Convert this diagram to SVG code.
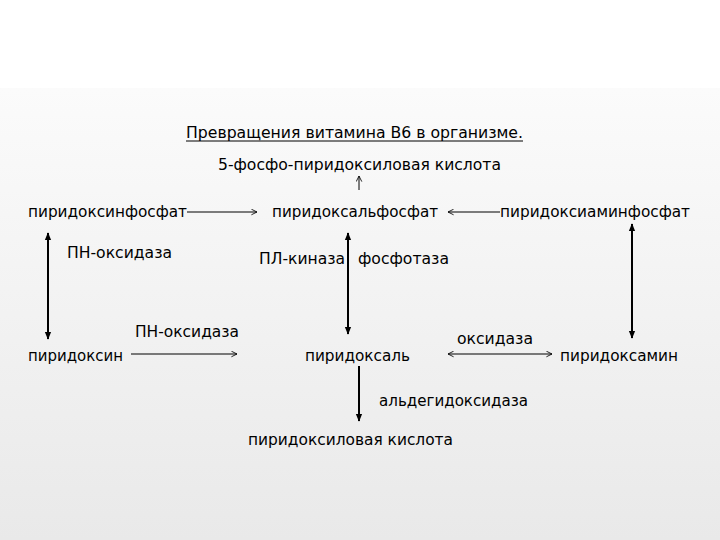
<svg xmlns="http://www.w3.org/2000/svg" width="720" height="540" viewBox="0 0 720 540">
<defs>
<linearGradient id="bg" x1="0" y1="0" x2="0" y2="1">
<stop offset="0" stop-color="#fbfbfb"/>
<stop offset="1" stop-color="#e9e9e9"/>
</linearGradient>
<marker id="open" viewBox="0 0 10 10" refX="9" refY="5" markerWidth="7" markerHeight="7" orient="auto-start-reverse" markerUnits="userSpaceOnUse">
<path d="M1,1 L9,5 L1,9" fill="none" stroke="#000" stroke-width="1.2"/>
</marker>
<marker id="fill" viewBox="0 0 10 10" refX="9" refY="5" markerWidth="8" markerHeight="8" orient="auto-start-reverse" markerUnits="userSpaceOnUse">
<path d="M0,1 L10,5 L0,9 Z" fill="#000"/>
</marker>
<style>
text{font-family:"DejaVu Sans Condensed","Liberation Sans",sans-serif;font-size:16px;fill:#000}
.thin{stroke:#000;stroke-width:1;fill:none}
.thick{stroke:#000;stroke-width:2;fill:none}
</style>
</defs>
<rect x="0" y="0" width="720" height="540" fill="#fff"/>
<rect x="0" y="88" width="720" height="452" fill="url(#bg)"/>
<g id="title">
<text x="186" y="138" textLength="337" lengthAdjust="spacingAndGlyphs">Превращения витамина В6 в организме.</text>
<line x1="186" y1="141" x2="523" y2="141" stroke="#000" stroke-width="1"/>
</g>
<g id="n-5fosfo"><text x="218" y="170" textLength="283" lengthAdjust="spacingAndGlyphs">5-фосфо-пиридоксиловая кислота</text></g>
<g id="n-pirfosfat"><text x="28" y="217" textLength="159" lengthAdjust="spacingAndGlyphs">пиридоксинфосфат</text></g>
<g id="n-plfosfat"><text x="272" y="217" textLength="166" lengthAdjust="spacingAndGlyphs">пиридоксальфосфат</text></g>
<g id="n-pamfosfat"><text x="500" y="217" textLength="190" lengthAdjust="spacingAndGlyphs">пиридоксиаминфосфат</text></g>
<g id="n-pyridoxin"><text x="28" y="361" textLength="95" lengthAdjust="spacingAndGlyphs">пиридоксин</text></g>
<g id="n-pyridoxal"><text x="305" y="361" textLength="105" lengthAdjust="spacingAndGlyphs">пиридоксаль</text></g>
<g id="n-pyridoxamin"><text x="560" y="361" textLength="118" lengthAdjust="spacingAndGlyphs">пиридоксамин</text></g>
<g id="n-acid"><text x="248" y="445" textLength="205" lengthAdjust="spacingAndGlyphs">пиридоксиловая кислота</text></g>
<g id="labels">
<text x="67" y="258" textLength="105" lengthAdjust="spacingAndGlyphs">ПН-оксидаза</text>
<text x="259" y="264" textLength="86" lengthAdjust="spacingAndGlyphs">ПЛ-киназа</text>
<text x="358" y="264" textLength="91" lengthAdjust="spacingAndGlyphs">фосфотаза</text>
<text x="135" y="337" textLength="104" lengthAdjust="spacingAndGlyphs">ПН-оксидаза</text>
<text x="457" y="344" textLength="76" lengthAdjust="spacingAndGlyphs">оксидаза</text>
<text x="379" y="406" textLength="149" lengthAdjust="spacingAndGlyphs">альдегидоксидаза</text>
</g>
<g id="connectors">
<line class="thin" x1="359" y1="190" x2="359" y2="176" marker-end="url(#open)"/>
<line class="thin" x1="187" y1="212" x2="257" y2="212" marker-end="url(#open)"/>
<line class="thin" x1="500" y1="212" x2="448" y2="212" marker-end="url(#open)"/>
<line class="thick" x1="48" y1="233" x2="48" y2="339" marker-start="url(#fill)" marker-end="url(#fill)"/>
<line class="thick" x1="348" y1="233" x2="348" y2="334" marker-start="url(#fill)" marker-end="url(#fill)"/>
<line class="thick" x1="632" y1="224" x2="632" y2="338" marker-start="url(#fill)" marker-end="url(#fill)"/>
<line class="thin" x1="131" y1="354" x2="237" y2="354" marker-end="url(#open)"/>
<line class="thin" x1="448" y1="354" x2="552" y2="354" marker-start="url(#open)" marker-end="url(#open)"/>
<line class="thick" x1="359" y1="366" x2="359" y2="421" marker-end="url(#fill)"/>
</g>
</svg>
